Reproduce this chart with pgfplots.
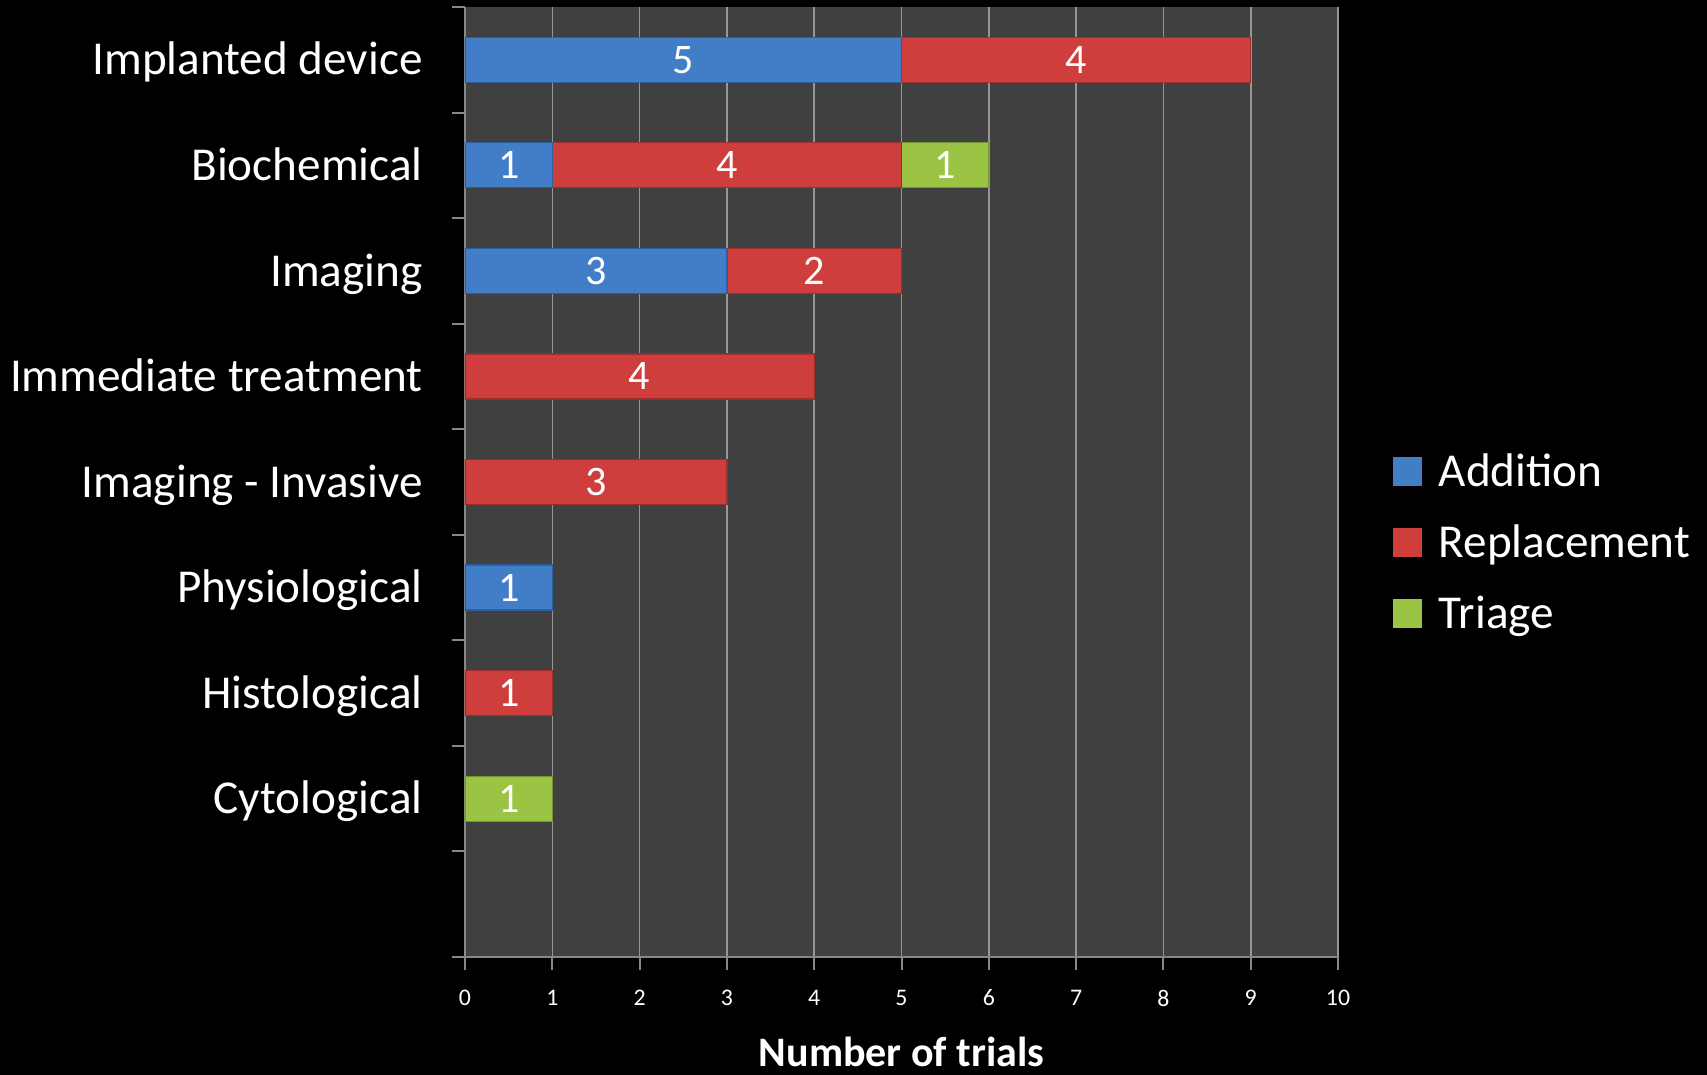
\documentclass[border=0pt]{standalone}
\usepackage{pgfplots}
\pgfplotsset{compat=1.18}
\usepackage{pgfplotstable}
\usepackage{fontspec}
\setmainfont{Carlito}
\definecolor{plotbg}{RGB}{64,64,64}
\definecolor{gridc}{RGB}{150,150,150}
\definecolor{axc}{RGB}{135,135,135}
\definecolor{blueM}{RGB}{66,126,200}
\definecolor{blueE}{RGB}{45,95,160}
\definecolor{redM}{RGB}{205,62,60}
\definecolor{redE}{RGB}{160,45,45}
\definecolor{greenM}{RGB}{155,195,68}
\definecolor{greenE}{RGB}{115,150,45}
\pgfplotstableread{
y add rep tri
8.5 5 4 0
7.5 1 4 1
6.5 3 2 0
5.5 0 4 0
4.5 0 3 0
3.5 1 0 0
2.5 0 1 0
1.5 0 0 1
}\data
\begin{document}
\begin{tikzpicture}[x=1pt,y=1pt]
\fill[black] (0,0) rectangle (853.5,537.5);
\path[use as bounding box] (0,0) rectangle (853.5,537.5);
\begin{axis}[at={(232.5pt,59pt)}, anchor=south west, scale only axis,
  width=436.5pt, height=475pt,
  xmin=0, xmax=10, ymin=0, ymax=9,
  /pgf/number format/assume math mode=true,
  xbar stacked, bar width=0.426,
  axis background/.style={fill=plotbg},
  axis x line*=bottom, axis y line*=left,
  axis line style={axc, line width=1pt},
  tick style={axc, line width=1pt},
  major tick length=6.5pt, tick align=outside,
  xtick={0,...,10},
  xmajorgrids, grid style={gridc, line width=0.8pt},
  xticklabel style={font=\fontsize{11.9}{13}\selectfont, text=white, anchor=center, yshift=-14pt},
  ytick={0,...,9}, yticklabel=\empty,
  extra y ticks={1.5,2.5,3.5,4.5,5.5,6.5,7.5,8.5},
  extra y tick labels={Cytological,Histological,Physiological,Imaging - Invasive,Immediate treatment,Imaging,Biochemical,Implanted device},
  extra y tick style={major tick length=0pt, yticklabel style={font=\fontsize{23.6}{28}\selectfont, text=white, anchor=base east, xshift=-21pt, yshift=-7.6pt, inner sep=0pt}},
  xlabel={\bfseries Number of trials},
  xlabel style={font=\fontsize{21}{23}\selectfont, text=white, at={(axis description cs:0.5,0)}, anchor=center, inner sep=0pt, yshift=-47.5pt},
  point meta=explicit,
  nodes near coords={\pgfmathfloatifflags{\pgfplotspointmeta}{0}{}{\pgfmathprintnumber{\pgfplotspointmeta}}},
  every node near coord/.append style={anchor=center, text=white, font=\fontsize{21}{23}\selectfont},
  legend style={at={(rel axis cs:1.062,0.436)}, anchor=west, draw=none, fill=none, text=white,
    font=\fontsize{23.6}{28}\selectfont, row sep=14.3pt, inner sep=0pt,
    nodes={inner sep=0pt, text height=18.2pt, text depth=3pt},
    /tikz/every odd column/.append style={column sep=8.5pt}},
  legend cell align=left,
]
\addplot[fill=blueM, draw=blueE, line width=0.6pt,
  legend image code/.code={\fill[blueM] (0pt,-7pt) rectangle (14pt,7pt);}]
  table[x=add, y=y, meta=add] {\data};
\addplot[fill=redM, draw=redE, line width=0.6pt,
  legend image code/.code={\fill[redM] (0pt,-7pt) rectangle (14pt,7pt);}]
  table[x=rep, y=y, meta=rep] {\data};
\addplot[fill=greenM, draw=greenE, line width=0.6pt,
  legend image code/.code={\fill[greenM] (0pt,-7pt) rectangle (14pt,7pt);}]
  table[x=tri, y=y, meta=tri] {\data};
\legend{Addition,Replacement,Triage}
\end{axis}
\end{tikzpicture}
\end{document}
